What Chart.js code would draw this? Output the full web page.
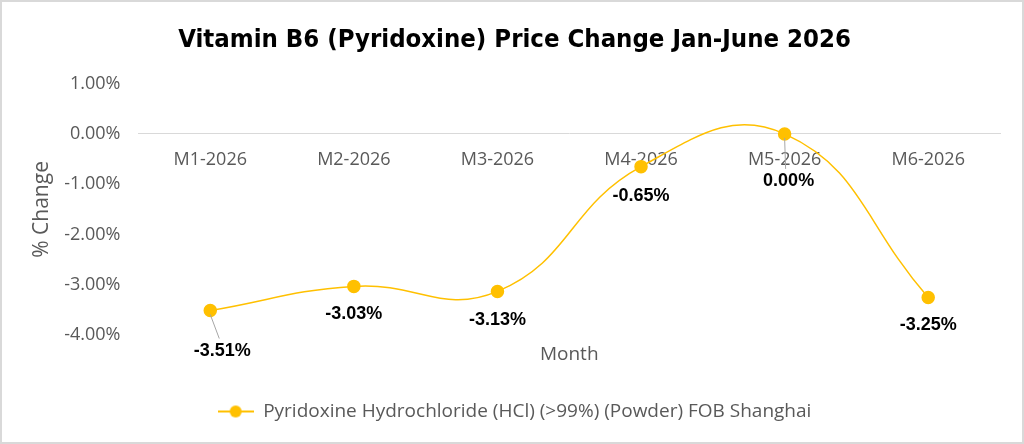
<!DOCTYPE html>
<html lang="en">
<head>
    <meta charset="UTF-8">
    <title>Vitamin B6 Price Change</title>
    <script src="https://cdn.jsdelivr.net/npm/chart.js"></script>
    <style>
        body { margin: 0; background: #fff; }
        .moldura {
            width: 1024px;
            height: 444px;
            box-sizing: border-box;
            border: 2px solid #d9d9d9;
            background: #fff;
        }
    </style>
</head>
<body>
    <div class="moldura">
        <canvas id="grafico" width="1020" height="440"></canvas>
    </div>

    <script>
        // dados
        const meses = ['M1-2026', 'M2-2026', 'M3-2026', 'M4-2026', 'M5-2026', 'M6-2026'];
        const variacao = [-3.51, -3.03, -3.13, -0.65, 0.00, -3.25];
        const ticksY = [1, 0, -1, -2, -3, -4];
        const serieNome = 'Pyridoxine Hydrochloride (HCl) (>99%) (Powder) FOB Shanghai';

        const amarelo = '#FFC000';
        const cinza = '#595959';
        const fonte = '"Open Sans", sans-serif';

        // deslocamento dos rótulos em relação ao ponto (layout, não dados)
        const rotuloDx = [12, 0, 0, 0, 4, 0];
        const rotuloDy = [40, 28, 29, 29, 47, 28];
        const comLinha = [true, false, false, false, true, false];

        // ícone da legenda: linha com bolinha
        const iconeLegenda = document.createElement('canvas');
        iconeLegenda.width = 36;
        iconeLegenda.height = 14;
        (function () {
            const c = iconeLegenda.getContext('2d');
            c.strokeStyle = amarelo;
            c.lineWidth = 2;
            c.beginPath();
            c.moveTo(0, 7);
            c.lineTo(36, 7);
            c.stroke();
            c.fillStyle = amarelo;
            c.beginPath();
            c.arc(18, 7, 6, 0, Math.PI * 2);
            c.fill();
        })();

        const rotulos = {
            id: 'rotulos',
            afterDatasetsDraw(chart) {
                const ctx = chart.ctx;
                const meta = chart.getDatasetMeta(0);
                ctx.save();
                ctx.font = 'bold 18px "Liberation Sans", Arial, sans-serif';
                ctx.fillStyle = '#000';
                ctx.textAlign = 'center';
                ctx.textBaseline = 'middle';
                meta.data.forEach((p, i) => {
                    const tx = p.x + rotuloDx[i];
                    const ty = p.y + rotuloDy[i];
                    if (comLinha[i]) {
                        ctx.strokeStyle = '#a6a6a6';
                        ctx.lineWidth = 1;
                        ctx.beginPath();
                        ctx.moveTo(p.x, p.y + 4);
                        ctx.lineTo(tx - 3, ty - 12);
                        ctx.stroke();
                    }
                    ctx.fillText(variacao[i].toFixed(2) + '%', tx, ty);
                });
                ctx.restore();
            }
        };

        const config = {
            type: 'line',
            data: {
                labels: meses,
                datasets: [{
                    label: serieNome,
                    data: variacao,
                    borderColor: amarelo,
                    backgroundColor: amarelo,
                    borderWidth: 1.5,
                    pointRadius: 6,
                    pointHoverRadius: 6,
                    pointBackgroundColor: amarelo,
                    pointBorderColor: amarelo,
                    tension: 0.45,
                    fill: false,
                    xAxisID: 'x'
                }]
            },
            options: {
                responsive: false,
                animation: false,
                layout: {
                    padding: { left: 27, right: 22, top: 0, bottom: 11 }
                },
                plugins: {
                    title: {
                        display: true,
                        text: 'Vitamin B6 (Pyridoxine) Price Change Jan-June 2026',
                        color: '#000',
                        font: { family: '"Liberation Sans Narrow", "DejaVu Sans Condensed", sans-serif', size: 25.5, weight: 'bold' },
                        padding: { top: 23, bottom: 28 }
                    },
                    legend: {
                        position: 'bottom',
                        labels: {
                            usePointStyle: true,
                            pointStyle: iconeLegenda,
                            pointStyleWidth: 36,
                            color: cinza,
                            font: { family: fonte, size: 19 },
                            padding: 10
                        }
                    },
                    tooltip: { enabled: false }
                },
                scales: {
                    x: {
                        type: 'category',
                        position: { y: 0 },
                        offset: true,
                        grid: { display: false },
                        border: { display: true, color: '#d9d9d9', width: 1 },
                        ticks: {
                            color: cinza,
                            font: { family: fonte, size: 18 },
                            padding: 7
                        }
                    },
                    x2: {
                        type: 'category',
                        labels: meses,
                        position: 'bottom',
                        offset: true,
                        grid: { display: false, drawTicks: false },
                        border: { display: false },
                        ticks: { display: false },
                        title: {
                            display: true,
                            text: 'Month',
                            color: cinza,
                            font: { family: fonte, size: 19 },
                            padding: { top: 8, bottom: 26 }
                        }
                    },
                    y: {
                        min: -4,
                        max: 1,
                        afterBuildTicks(scale) {
                            scale.ticks = ticksY.map(v => ({ value: v }));
                        },
                        grid: { display: false },
                        border: { display: false },
                        ticks: {
                            color: cinza,
                            font: { family: fonte, size: 18 },
                            padding: 10,
                            callback: v => v.toFixed(2) + '%'
                        },
                        title: {
                            display: true,
                            text: '% Change',
                            color: cinza,
                            font: { family: fonte, size: 21 },
                            padding: { top: 0, bottom: 0 }
                        }
                    }
                }
            },
            plugins: [rotulos]
        };

        new Chart(document.getElementById('grafico'), config);
    </script>
</body>
</html>
